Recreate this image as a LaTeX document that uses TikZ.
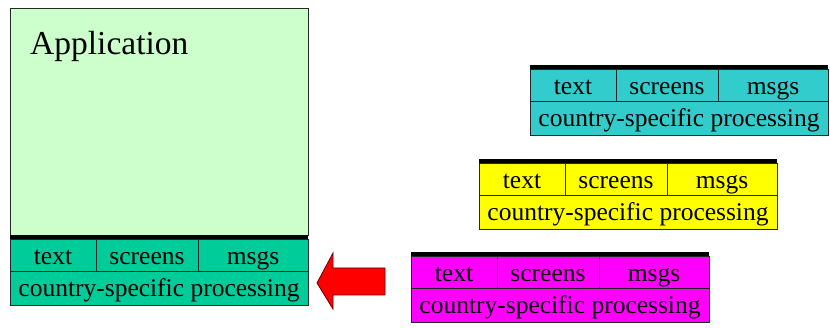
\documentclass[tikz,border=0pt]{standalone}
\usepackage{fontspec}
\setmainfont{Liberation Serif}
\definecolor{appgreen}{HTML}{CCFFCC}
\definecolor{modgreen}{HTML}{00CC99}
\definecolor{modcyan}{HTML}{33CCCC}
\definecolor{modyellow}{HTML}{FFFF00}
\definecolor{modmagenta}{HTML}{FF00FF}
\definecolor{arrowred}{HTML}{FF0000}
\tikzset{
  cell/.style={draw=black!85, line width=0.9pt},
  lbl/.style={inner sep=0pt, anchor=base, font=\fontsize{25.5}{25.5}\selectfont},
}
% one localisation module: thick top bar, three resource cells, processing row
% #1 name, #2 left x, #3 top y, #4 fill colour
\newcommand\locmodule[4]{%
  \begin{scope}[shift={(#2,#3)}]
    \draw[cell, fill=#4] (0,4) rectangle (298,70);
    \draw[cell] (0,36) -- (298,36);
    \draw[cell] (86,4) -- (86,36);
    \draw[cell] (188,4) -- (188,36);
    \fill[black] (0,0) rectangle (298,4.5);
    \node[lbl] (#1-text) at (43,30) {text};
    \node[lbl] (#1-screens) at (137,30) {screens};
    \node[lbl] (#1-msgs) at (243,30) {msgs};
    \node[lbl] (#1-proc) at (149,62) {country-specific processing};
  \end{scope}}
\begin{document}
\begin{tikzpicture}[x=1pt, y=-1pt]
  \useasboundingbox (0,0) rectangle (830,328);
  % application area
  \draw[cell, fill=appgreen] (10,8) rectangle (308,235);
  \node[inner sep=0pt, anchor=base west, font=\fontsize{33.5}{33.5}\selectfont] (app) at (30,55) {Application};
  % modules
  \locmodule{active}{10}{235}{modgreen}
  \locmodule{cyan}{530}{65}{modcyan}
  \locmodule{yellow}{479}{159}{modyellow}
  \locmodule{magenta}{411}{252}{modmagenta}
  % block arrow: plug a module into the application
  \draw[fill=arrowred, draw=black!60!red, line width=0.8pt]
    (317,283) -- (333,253) -- (333,268) -- (385,268) -- (385,295)
    -- (333,295) -- (333,309) -- cycle;
\end{tikzpicture}
\end{document}
